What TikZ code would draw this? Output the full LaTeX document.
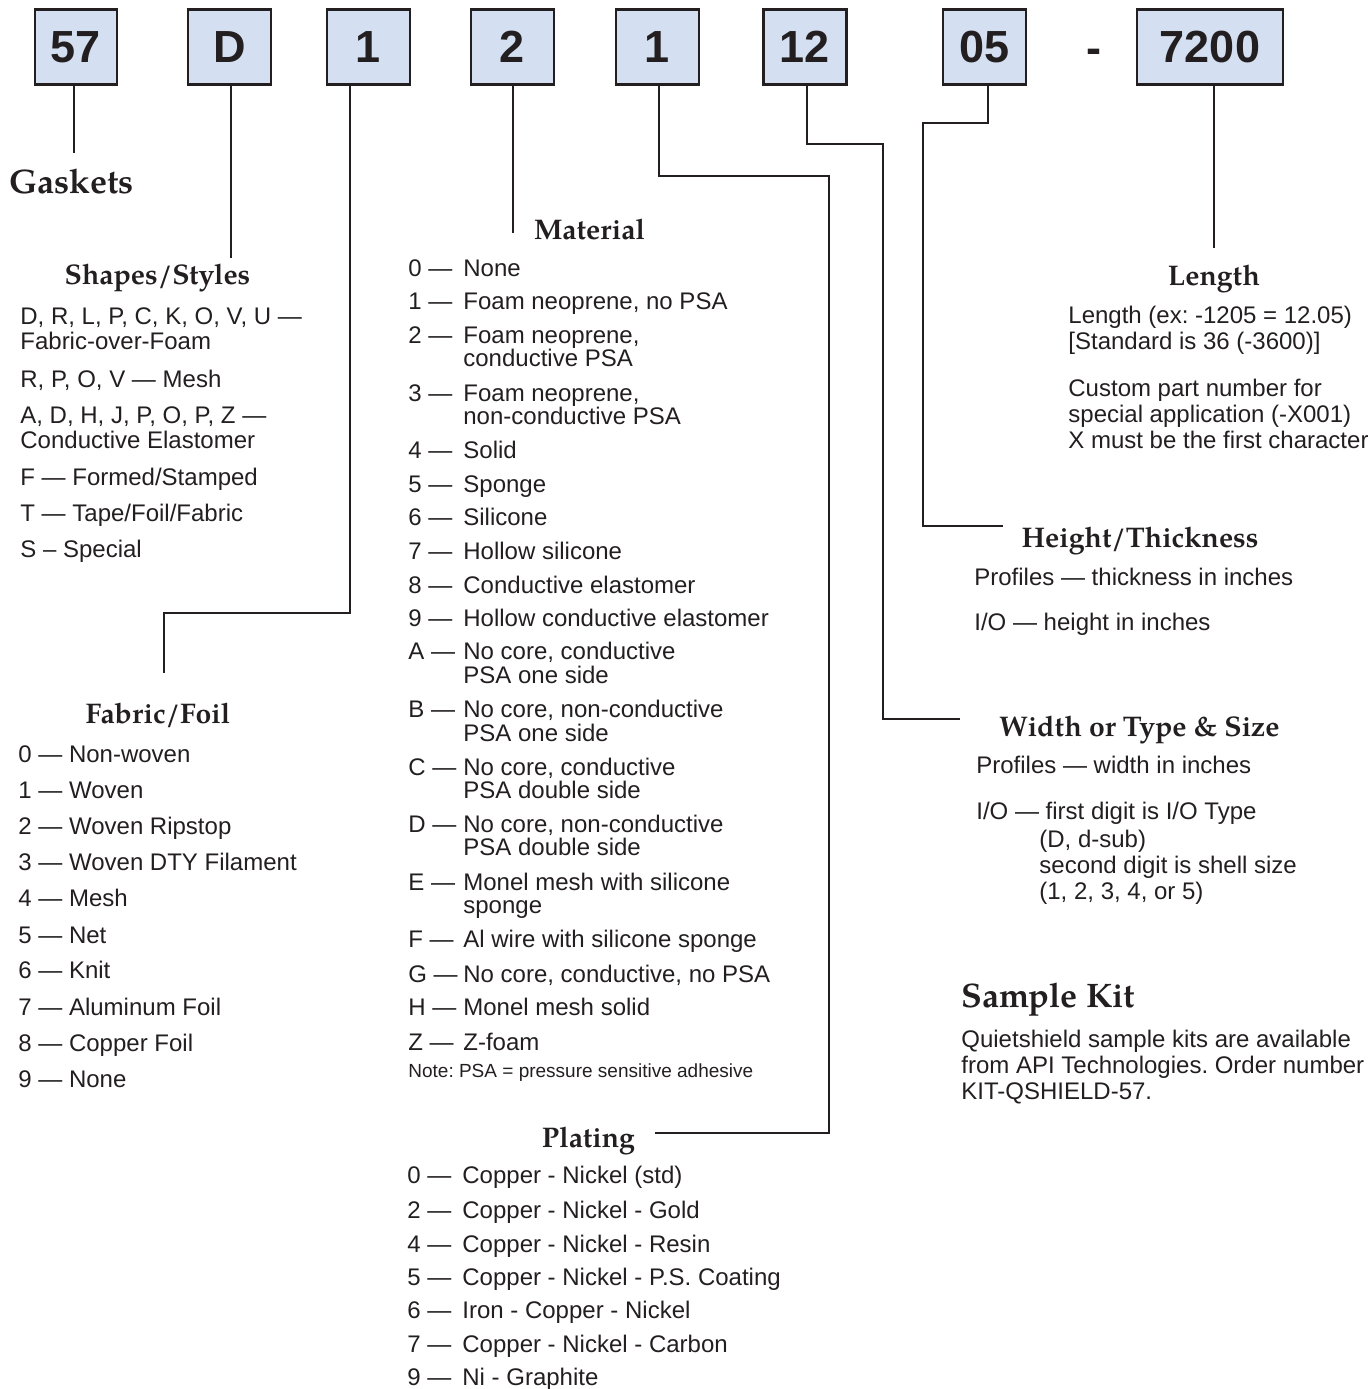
\documentclass[tikz,border=0pt]{standalone}
\usepackage{fontspec}
\setmainfont{Liberation Sans}
\newfontfamily\headfont{TeX Gyre Pagella}
\usetikzlibrary{calc}
\definecolor{boxblue}{RGB}{212,224,241}
\definecolor{ink}{RGB}{35,31,32}
\frenchspacing
\begin{document}
\frenchspacing
\begin{tikzpicture}[x=0.5pt,y=-0.5pt,
  pbox/.style={draw=ink, line width=1.1pt, fill=boxblue, minimum height=37.5pt, inner sep=0pt, text=ink,
    font=\fontsize{22.5}{22.5}\selectfont\bfseries},
  conn/.style={line width=1.1pt, draw=ink},
  head/.style={anchor=base, inner sep=0pt, text=ink, font=\headfont\bfseries\fontsize{14.2}{17}\selectfont},
  bighead/.style={anchor=base west, inner sep=0pt, text=ink, font=\headfont\bfseries\fontsize{17}{20}\selectfont},
  txt/.style={anchor=base west, inner sep=0pt, text=ink, font=\fontsize{12}{12}\selectfont},
  note/.style={anchor=base west, inner sep=0pt, text=ink, font=\fontsize{9.5}{9.5}\selectfont},
]
\useasboundingbox (0,0) rectangle (1368,1389);

% part-number boxes
\node[pbox, minimum width=41pt]   (b1) at (76,47)    {57};
\node[pbox, minimum width=41.5pt] (b2) at (229.5,47) {D};
\node[pbox, minimum width=41.5pt] (b3) at (368.5,47) {1};
\node[pbox, minimum width=41.5pt] (b4) at (512.5,47) {2};
\node[pbox, minimum width=41.5pt] (b5) at (657.5,47) {1};
\node[pbox, minimum width=41.5pt] (b6) at (805,47)   {12};
\node[pbox, minimum width=41.5pt] (b7) at (984.5,47) {05};
\node[anchor=base, inner sep=0pt, text=ink, font=\fontsize{22.5}{22.5}\selectfont\bfseries] (dash) at (1094,63) {-};
\node[pbox, minimum width=73pt]   (b8) at (1210,47)  {7200};

% headings
\node[bighead] (gask) at (9,193) {Gaskets};
\node[head] (hss) at (157.5,284) {Shapes/Styles};
\node[head] (hff) at (158,723) {Fabric/Foil};
\node[head] (hmat) at (589.5,239) {Material};
\node[head] (hpl) at (588.5,1147) {Plating};
\node[head] (hlen) at (1214,285) {Length};
\node[head] (hht) at (1140,547) {Height/Thickness};
\node[head] (hwd) at (1139.5,736) {Width or Type \& Size};
\node[bighead] (hsk) at (961,1007) {Sample Kit};

% connector free ends
\coordinate (e1) at (74,153);
\coordinate (e2) at (231,258);
\coordinate (e3a) at (350,613);
\coordinate (e3b) at (164,613);
\coordinate (e3) at (164,673);
\coordinate (e4) at (513,233);
\coordinate (e5a) at (659,176);
\coordinate (e5b) at (829,176);
\coordinate (e5c) at (829,1133);
\coordinate (e5) at (655,1133);
\coordinate (e6a) at (807,144);
\coordinate (e6b) at (883,144);
\coordinate (e6c) at (883,719);
\coordinate (e6) at (960,719);
\coordinate (e7a) at (988,123);
\coordinate (e7b) at (923,123);
\coordinate (e7c) at (923,526);
\coordinate (e7) at (1003,526);
\coordinate (e8) at (1214,248);

% connectors
\draw[conn] (b1.south -| e1) -- (e1);
\draw[conn] (b2.south -| e2) -- (e2);
\draw[conn] (b3.south -| e3a) -- (e3a) -- (e3b) -- (e3);
\draw[conn] (b4.south -| e4) -- (e4);
\draw[conn] (b5.south -| e5a) -- (e5a) -- (e5b) -- (e5c) -- (e5);
\draw[conn] (b6.south -| e6a) -- (e6a) -- (e6b) -- (e6c) -- (e6);
\draw[conn] (b7.south -| e7a) -- (e7a) -- (e7b) -- (e7c) -- (e7);
\draw[conn] (b8.south -| e8) -- (e8);

% Shapes/Styles
\foreach \yy/\tt [count=\i] in {324/{D, R, L, P, C, K, O, V, U —},349/{Fabric-over-Foam},387/{R, P, O, V — Mesh},423/{A, D, H, J, P, O, P, Z —},448/{Conductive Elastomer},485/{F — Formed/Stamped},521/{T — Tape/Foil/Fabric},557/{S – Special}}
  \node[txt] (ss\i) at (20,\yy) {\tt};

% Fabric/Foil
\foreach \yy/\tt [count=\i] in {762/{0 — Non-woven},798/{1 — Woven},834/{2 — Woven Ripstop},870/{3 — Woven DTY Filament},906/{4 — Mesh},943/{5 — Net},978/{6 — Knit},1015/{7 — Aluminum Foil},1051/{8 — Copper Foil},1087/{9 — None}}
  \node[txt] (ff\i) at (18,\yy) {\tt};

% Material codes
\foreach \yy/\cc [count=\i] in {276/0,309/1,343/2,401/3,458/4,492/5,525/6,559/7,593/8,626/9,659/A,717/B,775/C,832/D,890/E,947/F,982/G,1015/H,1050/Z}
  \node[txt] (mc\i) at (408,\yy) {\cc\ —};
% Material texts
\foreach \yy/\tt [count=\i] in {276/{None},309/{Foam neoprene, no PSA},343/{Foam neoprene,},366/{conductive PSA},401/{Foam neoprene,},424/{non-conductive PSA},458/{Solid},492/{Sponge},525/{Silicone},559/{Hollow silicone},593/{Conductive elastomer},626/{Hollow conductive elastomer},659/{No core, conductive},683/{PSA one side},717/{No core, non-conductive},741/{PSA one side},775/{No core, conductive},798/{PSA double side},832/{No core, non-conductive},855/{PSA double side},890/{Monel mesh with silicone},913/{sponge},947/{Al wire with silicone sponge},982/{No core, conductive, no PSA},1015/{Monel mesh solid},1050/{Z-foam}}
  \node[txt] (mt\i) at (463,\yy) {\tt};
\node[note] (mnote) at (408,1077) {Note: PSA = pressure sensitive adhesive};

% Plating
\foreach \yy/\cc/\tt [count=\i] in {1183/0/{Copper - Nickel (std)},1218/2/{Copper - Nickel - Gold},1252/4/{Copper - Nickel - Resin},1285/5/{Copper - Nickel - P.S. Coating},1318/6/{Iron - Copper - Nickel},1352/7/{Copper - Nickel - Carbon},1385/9/{Ni - Graphite}}
{
  \node[txt] (pc\i) at (407,\yy) {\cc\ —};
  \node[txt] (pt\i) at (462,\yy) {\tt};
}

% Length
\foreach \yy/\tt [count=\i] in {323/{Length (ex: -1205 = 12.05)},349/{[Standard is 36 (-3600)]},396/{Custom part number for},422/{special application (-X001)},448/{X must be the first character}}
  \node[txt] (ln\i) at (1068,\yy) {\tt};

% Height/Thickness
\node[txt] (ht1) at (974,585) {Profiles — thickness in inches};
\node[txt] (ht2) at (974,630) {I/O — height in inches};

% Width or Type & Size
\node[txt] (wd1) at (976,773) {Profiles — width in inches};
\node[txt] (wd2) at (976,819) {I/O — first digit is I/O Type};
\foreach \yy/\tt [count=\i] in {847/{(D, d-sub)},873/{second digit is shell size},899/{(1, 2, 3, 4, or 5)}}
  \node[txt] (wx\i) at (1039,\yy) {\tt};

% Sample kit
\foreach \yy/\tt [count=\i] in {1047/{Quietshield sample kits are available},1073/{from API Technologies. Order number},1099/{KIT-QSHIELD-57.}}
  \node[txt] (sk\i) at (961,\yy) {\tt};
\end{tikzpicture}
\end{document}
